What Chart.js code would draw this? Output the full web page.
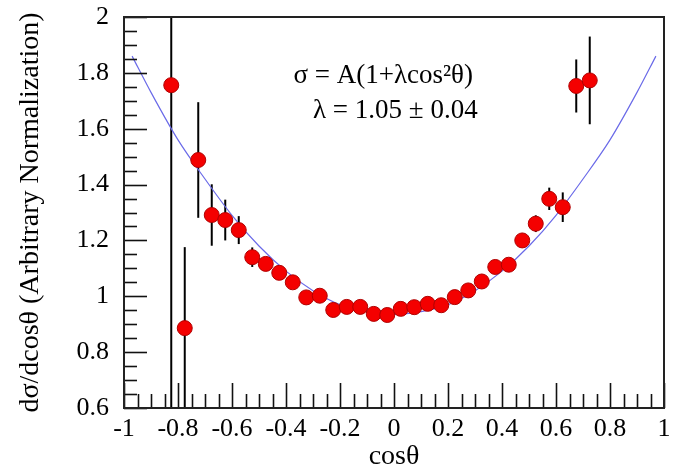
<!DOCTYPE html>
<html>
<head>
<meta charset="utf-8">
<script src="https://cdn.jsdelivr.net/npm/chart.js@4/dist/chart.umd.min.js"></script>
<style>
  html, body { margin: 0; padding: 0; background: #fff; }
</style>
</head>
<body>
<canvas id="grafico" width="677" height="473"></canvas>
<script>
// dados
const cosTheta = [-0.825, -0.775, -0.725, -0.675, -0.625, -0.575, -0.525, -0.475,
                  -0.425, -0.375, -0.325, -0.275, -0.225, -0.175, -0.125, -0.075,
                  -0.025, 0.025, 0.075, 0.125, 0.175, 0.225, 0.275, 0.325,
                  0.375, 0.425, 0.475, 0.525, 0.575, 0.625, 0.675, 0.725];
const dSigma = [1.756, 0.886, 1.488, 1.291, 1.273, 1.237, 1.140, 1.116,
                1.084, 1.050, 0.996, 1.002, 0.951, 0.962, 0.962, 0.937,
                0.933, 0.955, 0.961, 0.973, 0.968, 0.997, 1.021, 1.053,
                1.105, 1.113, 1.200, 1.260, 1.349, 1.319, 1.753, 1.773];
const dSigmaErr = [1.30, 0.29, 0.207, 0.11, 0.073, 0.05, 0.035, 0.02,
                   0.02, 0.02, 0.02, 0.02, 0.015, 0.015, 0.015, 0.015,
                   0.015, 0.015, 0.015, 0.015, 0.015, 0.015, 0.02, 0.02,
                   0.02, 0.02, 0.025, 0.03, 0.04, 0.053, 0.095, 0.157];

// curva do ajuste
const fitX = [-0.97, -0.9, -0.8, -0.7, -0.6, -0.5, -0.4, -0.3, -0.2, -0.1, 0,
              0.1, 0.2, 0.3, 0.4, 0.5, 0.6, 0.7, 0.8, 0.9, 0.97];
const fitY = [1.86, 1.73, 1.56, 1.42, 1.29, 1.18, 1.09, 1.02, 0.97, 0.945, 0.935,
              0.945, 0.97, 1.02, 1.09, 1.18, 1.29, 1.42, 1.56, 1.73, 1.86];

const textoFormula = 'σ = A(1+λcos²θ)';
const textoLambda = 'λ = 1.05 ± 0.04';

const fonteSerif = '"Liberation Serif", "DejaVu Serif", serif';

function rotuloMaior(value) {
    const v = Math.round(value * 100) / 100;
    if (Math.abs(v * 5 - Math.round(v * 5)) > 1e-6) return '';
    return String(v);
}

// barras de erro, marcas internas e moldura
const pluginFigura = {
    id: 'figura',
    beforeDatasetsDraw(chart) {
        const ctx = chart.ctx;
        const x = chart.scales.x;
        const y = chart.scales.y;
        const esq = x.getPixelForValue(-1), dir = x.getPixelForValue(1);
        const topo = y.getPixelForValue(2), base = y.getPixelForValue(0.6);
        ctx.save();
        ctx.beginPath();
        ctx.rect(esq, topo, dir - esq, base - topo);
        ctx.clip();
        ctx.strokeStyle = '#000';
        ctx.lineWidth = 2;
        cosTheta.forEach((cx, i) => {
            const px = x.getPixelForValue(cx);
            ctx.beginPath();
            ctx.moveTo(px, y.getPixelForValue(dSigma[i] + dSigmaErr[i]));
            ctx.lineTo(px, y.getPixelForValue(dSigma[i] - dSigmaErr[i]));
            ctx.stroke();
        });
        ctx.restore();
    },
    afterDraw(chart) {
        const ctx = chart.ctx;
        const x = chart.scales.x;
        const y = chart.scales.y;
        const esq = x.getPixelForValue(-1), dir = x.getPixelForValue(1);
        const topo = y.getPixelForValue(2), base = y.getPixelForValue(0.6);
        ctx.save();
        ctx.strokeStyle = '#111';
        ctx.lineWidth = 1.6;
        // marcas do eixo x (para dentro)
        x.ticks.forEach(t => {
            const px = Math.round(x.getPixelForValue(t.value)) + 0.5;
            const len = rotuloMaior(t.value) ? 25 : 14;
            ctx.beginPath();
            ctx.moveTo(px, base);
            ctx.lineTo(px, base - len);
            ctx.stroke();
        });
        // marcas do eixo y (para dentro)
        y.ticks.forEach(t => {
            const py = Math.round(y.getPixelForValue(t.value)) + 0.5;
            const len = rotuloMaior(t.value) ? 23 : 13;
            ctx.beginPath();
            ctx.moveTo(esq, py);
            ctx.lineTo(esq + len, py);
            ctx.stroke();
        });
        // moldura
        ctx.strokeStyle = '#222';
        ctx.lineWidth = 2;
        ctx.strokeRect(esq, topo, dir - esq, base - topo);

        // texto da fórmula
        ctx.fillStyle = '#000';
        ctx.font = '27px ' + fonteSerif;
        ctx.textAlign = 'center';
        ctx.textBaseline = 'middle';
        ctx.fillText(textoFormula, x.getPixelForValue(-0.04), y.getPixelForValue(1.79));
        ctx.fillText(textoLambda, x.getPixelForValue(0.005), y.getPixelForValue(1.664));
        ctx.restore();
    }
};

const ctx = document.getElementById('grafico').getContext('2d');

new Chart(ctx, {
    type: 'scatter',
    data: {
        datasets: [
            {
                label: 'fit',
                type: 'line',
                data: fitX.map((v, i) => ({ x: v, y: fitY[i] })),
                borderColor: '#6a6ae8',
                borderWidth: 1.2,
                pointRadius: 0,
                fill: false,
                cubicInterpolationMode: 'monotone',
                order: 2
            },
            {
                label: 'dados',
                data: cosTheta.map((v, i) => ({ x: v, y: dSigma[i] })),
                backgroundColor: '#f40000',
                borderColor: '#b00000',
                borderWidth: 1,
                pointRadius: 7.5,
                order: 1
            }
        ]
    },
    options: {
        responsive: false,
        animation: false,
        layout: {
            padding: { top: 17, right: 13, left: 0, bottom: 0 }
        },
        plugins: {
            legend: { display: false },
            tooltip: { enabled: false }
        },
        scales: {
            x: {
                type: 'linear',
                min: -1,
                max: 1,
                afterFit: s => { s.height = 65; s.paddingLeft = 0; s.paddingRight = 0; },
                grid: { display: false, drawTicks: false },
                border: { display: false },
                ticks: {
                    stepSize: 0.05,
                    autoSkip: false,
                    maxRotation: 0,
                    padding: 6,
                    color: '#000',
                    font: { family: fonteSerif, size: 26 },
                    callback: rotuloMaior
                },
                title: {
                    display: true,
                    text: 'cosθ',
                    color: '#000',
                    font: { family: fonteSerif, size: 28 },
                    padding: { top: -3, bottom: 0 }
                }
            },
            y: {
                type: 'linear',
                min: 0.6,
                max: 2,
                afterFit: s => { s.width = 124; s.paddingTop = 0; s.paddingBottom = 0; },
                grid: { display: false, drawTicks: false },
                border: { display: false },
                ticks: {
                    stepSize: 0.05,
                    autoSkip: false,
                    padding: 15,
                    color: '#000',
                    font: { family: fonteSerif, size: 26 },
                    callback: rotuloMaior
                },
                title: {
                    display: true,
                    text: 'dσ/dcosθ (Arbitrary Normalization)',
                    color: '#000',
                    font: { family: fonteSerif, size: 28 },
                    padding: { top: 14, bottom: 0 }
                }
            }
        }
    },
    plugins: [pluginFigura]
});
</script>
</body>
</html>
